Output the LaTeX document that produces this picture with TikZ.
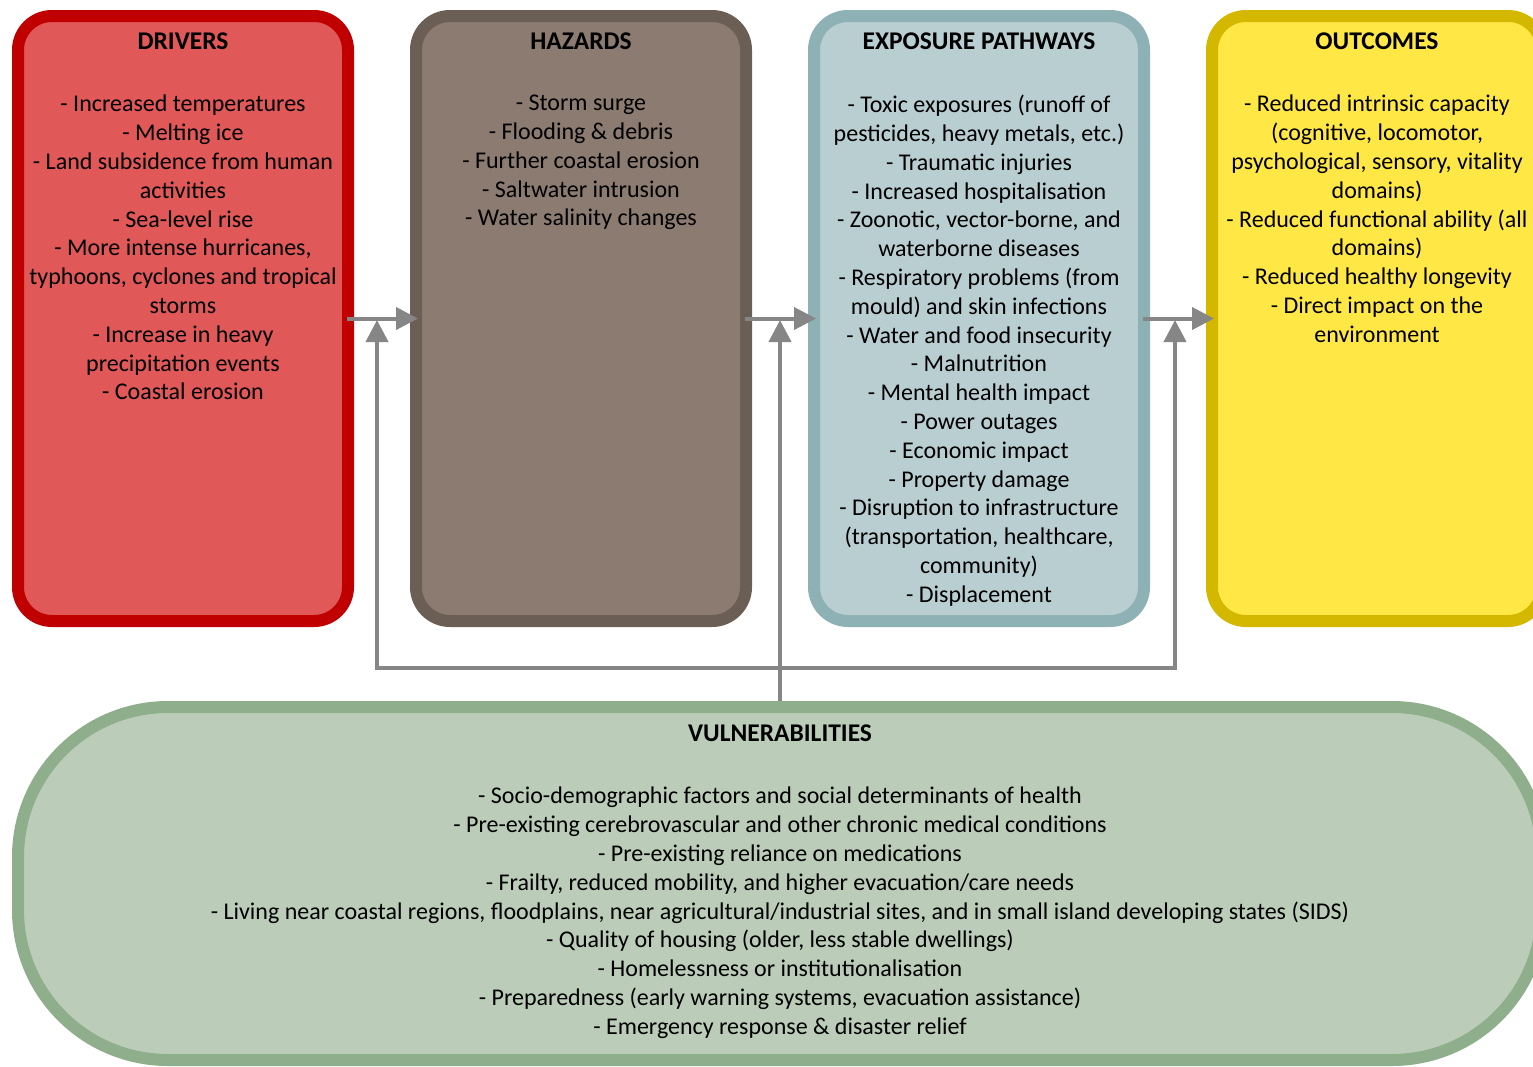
\documentclass[tikz,border=0pt]{standalone}
\usepackage{fontspec}
\setmainfont{Carlito}
\usetikzlibrary{arrows.meta}

\definecolor{drvfill}{RGB}{224,88,88}
\definecolor{drvline}{RGB}{192,0,0}
\definecolor{hazfill}{RGB}{140,123,112}
\definecolor{hazline}{RGB}{107,94,84}
\definecolor{expfill}{RGB}{185,206,209}
\definecolor{expline}{RGB}{141,177,181}
\definecolor{outfill}{RGB}{255,232,70}
\definecolor{outline}{RGB}{212,184,0}
\definecolor{vulfill}{RGB}{187,205,185}
\definecolor{vulline}{RGB}{143,174,139}
\definecolor{linkgray}{RGB}{134,134,134}

\begin{document}
\begin{tikzpicture}[x=1pt,y=-1pt,
  box/.style={line width=12pt, rounded corners=34pt, minimum width=330pt, minimum height=605pt, inner sep=0pt},
  heading/.style={font=\fontsize{25.5}{28}\selectfont\bfseries},
  items/.style={align=center, anchor=north, inner sep=0pt, font=\fontsize{24}{28.8}\selectfont},
  wire/.style={draw=linkgray, line width=4pt},
  link/.style={wire, -{Triangle[length=22pt,width=22pt]}}]

\useasboundingbox (0,0) rectangle (1533,1066);

% the four stages
\node[box, draw=drvline, fill=drvfill] (drivers) at (183,318.5) {};
\node[box, draw=hazline, fill=hazfill] (hazards) at (581,318.5) {};
\node[box, draw=expline, fill=expfill] (exposure) at (979,318.5) {};
\node[box, draw=outline, fill=outfill] (outcomes) at (1377,318.5) {};

\node[heading] (drivers-title) at (183,41) {DRIVERS};
\node[heading] (hazards-title) at (581,41) {HAZARDS};
\node[heading] (exposure-title) at (979,41) {EXPOSURE PATHWAYS};
\node[heading] (outcomes-title) at (1377,41) {OUTCOMES};

\node[items] (drivers-list) at (183,95) {- Increased temperatures\\ - Melting ice\\
  - Land subsidence from human\\ activities\\ - Sea-level rise\\
  - More intense hurricanes,\\ typhoons, cyclones and tropical\\ storms\\
  - Increase in heavy\\ precipitation events\\ - Coastal erosion};
\node[items] (hazards-list) at (581,95) {- Storm surge\\ - Flooding \& debris\\
  - Further coastal erosion\\ - Saltwater intrusion\\ - Water salinity changes};
\node[items] (exposure-list) at (979,95) {- Toxic exposures (runoff of\\
  pesticides, heavy metals, etc.)\\ - Traumatic injuries\\ - Increased hospitalisation\\
  - Zoonotic, vector-borne, and\\ waterborne diseases\\ - Respiratory problems (from\\
  mould) and skin infections\\ - Water and food insecurity\\ - Malnutrition\\
  - Mental health impact\\ - Power outages\\ - Economic impact\\ - Property damage\\
  - Disruption to infrastructure\\ (transportation, healthcare,\\ community)\\ - Displacement};
\node[items] (outcomes-list) at (1377,95) {- Reduced intrinsic capacity\\
  (cognitive, locomotor,\\ psychological, sensory, vitality\\ domains)\\
  - Reduced functional ability (all\\ domains)\\ - Reduced healthy longevity\\
  - Direct impact on the\\ environment};

% vulnerabilities
\node[line width=12pt, rounded corners=150pt, minimum width=1524pt, minimum height=353pt,
  draw=vulline, fill=vulfill] (vuln) at (780,883.5) {};
\node[heading] (vuln-title) at (780,733) {VULNERABILITIES};
\node[items] (vuln-list) at (780,787) {- Socio-demographic factors and social determinants of health\\
  - Pre-existing cerebrovascular and other chronic medical conditions\\
  - Pre-existing reliance on medications\\
  - Frailty, reduced mobility, and higher evacuation/care needs\\
  - Living near coastal regions, floodplains, near agricultural/industrial sites, and in small island developing states (SIDS)\\
  - Quality of housing (older, less stable dwellings)\\
  - Homelessness or institutionalisation\\
  - Preparedness (early warning systems, evacuation assistance)\\
  - Emergency response \& disaster relief};

% arrows
\draw[link, shorten <=-7pt, shorten >=-8pt] (drivers.east) -- (hazards.west);
\draw[link, shorten <=-7pt, shorten >=-8pt] (hazards.east) -- (exposure.west);
\draw[link, shorten <=-7pt, shorten >=-8pt] (exposure.east) -- (outcomes.west);

\coordinate (hub) at (780,668);
\coordinate (tip1) at (377,320);
\coordinate (tip2) at (780,320);
\coordinate (tip3) at (1175,320);
\draw[wire] (vuln.north) -- (hub);
\draw[link] (hub) -| (tip1);
\draw[link] (hub) -- (tip2);
\draw[link] (hub) -| (tip3);
\end{tikzpicture}
\end{document}
